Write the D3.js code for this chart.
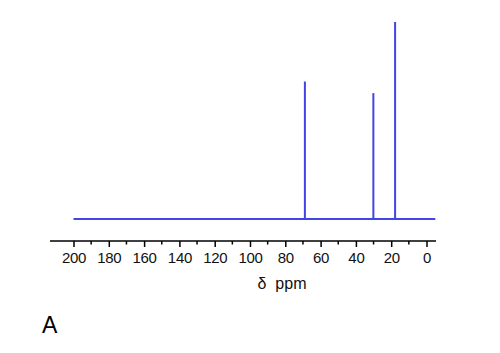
<!DOCTYPE html>
<html>
<head>
<meta charset="utf-8">
<script src="https://cdn.jsdelivr.net/npm/d3@7"></script>
<style>
  body { margin: 0; background: #fff; }
  text { font-family: "Liberation Sans", Arial, sans-serif; }
</style>
</head>
<body>
<script>
// peak positions (ppm) and relative heights
var peakShifts = [68.9, 30.1, 17.8];
var peakHeights = [69.8, 63.9, 100];
var majorTicks = [200, 180, 160, 140, 120, 100, 80, 60, 40, 20, 0];
var minorTicks = [190, 170, 150, 130, 110, 90, 70, 50, 30, 10];
var baselineRange = [200, -5];

var width = 500, height = 353;
var lineColor = "#4343e8";

var svg = d3.select("body").append("svg")
    .attr("width", width)
    .attr("height", height);

var x = d3.scaleLinear().domain([200, 0]).range([73.5, 426.5]);
var y = d3.scaleLinear().domain([0, 100]).range([219, 22]);

// baseline
svg.append("line")
    .attr("x1", x(baselineRange[0]))
    .attr("x2", x(baselineRange[1]))
    .attr("y1", y(0))
    .attr("y2", y(0))
    .attr("stroke", lineColor)
    .attr("stroke-width", 2);

// peaks
svg.selectAll(".peak")
    .data(peakShifts)
    .enter().append("line")
    .attr("class", "peak")
    .attr("x1", function(d) { return x(d); })
    .attr("x2", function(d) { return x(d); })
    .attr("y1", y(0))
    .attr("y2", function(d, i) { return y(peakHeights[i]); })
    .attr("stroke", lineColor)
    .attr("stroke-width", 2);

// x axis
var axisY = 241;
var axisG = svg.append("g").attr("transform", "translate(0," + axisY + ")");

axisG.append("line")
    .attr("x1", 50).attr("x2", 436)
    .attr("y1", 0).attr("y2", 0)
    .attr("stroke", "#000").attr("stroke-width", 1.5);

var xAxis = d3.axisBottom(x)
    .tickValues(majorTicks)
    .tickSize(6)
    .tickPadding(6)
    .tickFormat(d3.format("d"));

var ax = axisG.append("g").call(xAxis);
ax.select(".domain").remove();
ax.selectAll(".tick line").attr("stroke", "#000").attr("stroke-width", 1.5);
ax.selectAll(".tick text")
    .attr("fill", "#111")
    .attr("dy", "0.68em")
    .style("font-size", "15px")
    .style("letter-spacing", "-0.3px")
    .style("font-family", "'Liberation Sans', Arial, sans-serif");

axisG.selectAll(".minor")
    .data(minorTicks)
    .enter().append("line")
    .attr("class", "minor")
    .attr("x1", function(d) { return x(d); })
    .attr("x2", function(d) { return x(d); })
    .attr("y1", 0).attr("y2", 3.5)
    .attr("stroke", "#000").attr("stroke-width", 1.5);

var axTitle = svg.append("text")
    .attr("x", 282)
    .attr("y", 289)
    .attr("text-anchor", "middle")
    .attr("fill", "#111")
    .style("font-size", "16px")
    .style("white-space", "pre")
    .text("δ  ppm");

svg.append("text")
    .attr("x", 42)
    .attr("y", 333)
    .attr("fill", "#000")
    .style("font-size", "23px")
    .text("A");
</script>
</body>
</html>
